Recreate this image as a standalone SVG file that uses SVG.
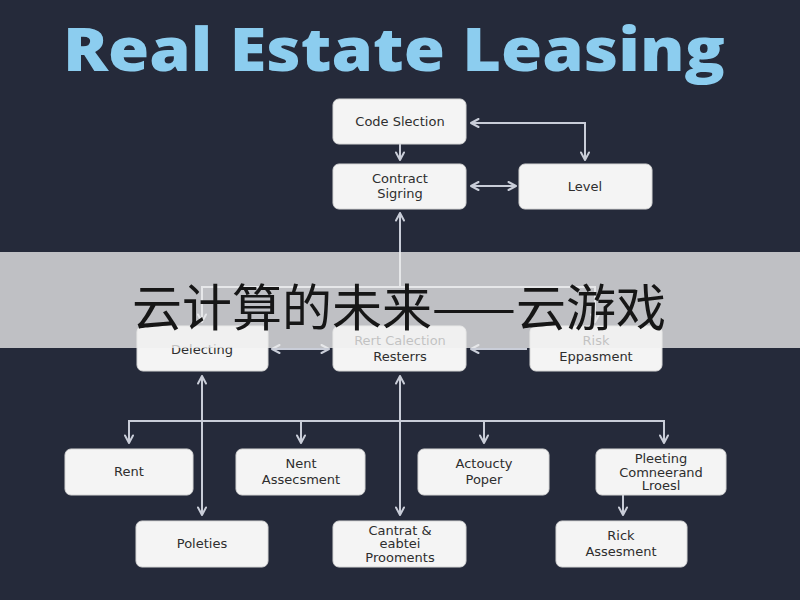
<svg xmlns="http://www.w3.org/2000/svg" width="800" height="600" viewBox="0 0 800 600">
<defs>
<marker id="arr" viewBox="0 0 10 10" refX="9" refY="5" markerWidth="10" markerHeight="10" markerUnits="userSpaceOnUse" orient="auto-start-reverse">
<path d="M1.5,1 L9,5 L1.5,9" fill="none" stroke="#c9cdd8" stroke-width="2" stroke-linecap="round" stroke-linejoin="round"/>
</marker>
</defs>
<style>
.bg{fill:#252a3a}
.node rect{fill:#f4f4f4;stroke:#d6d6d6;stroke-width:1}
.node text{font-family:"DejaVu Sans","Open Sans",sans-serif;font-size:13px;fill:#2e2e2e;text-anchor:middle}
.small{font-size:10.5px}
.conn path{fill:none;stroke:#c9cdd8;stroke-width:2}
.title{font-family:"Open Sans","Liberation Sans",sans-serif;font-weight:800;font-size:60px;fill:#8ccdef}
.band{fill:#eeeeee;fill-opacity:0.77}
.bandtext{font-family:"Noto Sans CJK SC","Noto Sans",sans-serif;font-size:50px;fill:#161616;text-anchor:middle}
</style>
<rect class="bg" x="0" y="0" width="800" height="600"/>
<text class="title" x="63" y="71" textLength="662" lengthAdjust="spacingAndGlyphs">Real Estate Leasing</text>

<g id="connectors" class="conn">
<path d="M400,144 L400,160" marker-end="url(#arr)"/>
<path d="M471,123 L585,123 L585,160" marker-start="url(#arr)" marker-end="url(#arr)"/>
<path d="M471,186 L516,186" marker-start="url(#arr)" marker-end="url(#arr)"/>
<path d="M400,287 L400,213" marker-end="url(#arr)"/>
<path d="M202,322 L202,287 L595,287 L595,322" marker-start="url(#arr)" marker-end="url(#arr)"/>
<path d="M272,349 L329,349" marker-start="url(#arr)" marker-end="url(#arr)"/>
<path d="M527,349 L471,349" marker-end="url(#arr)"/>
<path d="M129,443 L129,421 L664,421 L664,443" marker-start="url(#arr)" marker-end="url(#arr)"/>
<path d="M301,421 L301,443" marker-end="url(#arr)"/>
<path d="M484,421 L484,443" marker-end="url(#arr)"/>
<path d="M202,515 L202,376" marker-start="url(#arr)" marker-end="url(#arr)"/>
<path d="M400,515 L400,376" marker-start="url(#arr)" marker-end="url(#arr)"/>
<path d="M623,495 L623,515" marker-end="url(#arr)"/>
</g>

<g id="code-selection" class="node"><rect x="333" y="99" width="133" height="45" rx="6"/><text x="400" y="126">Code Slection</text></g>
<g id="contract-signing" class="node"><rect x="333" y="164" width="133" height="45" rx="6"/><text x="400" y="183">Contract</text><text x="400" y="198">Sigring</text></g>
<g id="level" class="node"><rect x="519" y="164" width="133" height="45" rx="6"/><text x="585" y="191">Level</text></g>

<g id="delecting" class="node"><rect x="137" y="326" width="131" height="45" rx="6"/><text x="202" y="354">Delecting</text></g>
<g id="rent-calection" class="node"><rect x="333" y="326" width="133" height="45" rx="6"/><text x="400" y="345">Rert Calection</text><text x="400" y="361">Resterrs</text></g>
<g id="risk-eppasment" class="node"><rect x="530" y="326" width="132" height="45" rx="6"/><text x="596" y="345">Risk</text><text x="596" y="361">Eppasment</text></g>

<g id="rent" class="node"><rect x="65" y="449" width="128" height="46" rx="6"/><text x="129" y="476">Rent</text></g>
<g id="nent-assessment" class="node"><rect x="236" y="449" width="129" height="46" rx="6"/><text x="301" y="468">Nent</text><text x="301" y="484">Assecsment</text></g>
<g id="actoucty-poper" class="node"><rect x="418" y="449" width="131" height="46" rx="6"/><text x="484" y="468">Actoucty</text><text x="484" y="484">Poper</text></g>
<g id="pleeting" class="node"><rect x="596" y="449" width="130" height="46" rx="6"/><text x="661" y="463">Pleeting</text><text x="661" y="477">Comneerand</text><text x="661" y="490" class="small">Lroesl</text></g>

<g id="poleties" class="node"><rect x="136" y="521" width="132" height="46" rx="6"/><text x="202" y="548">Poleties</text></g>
<g id="cantrat" class="node"><rect x="333" y="521" width="133" height="46" rx="6"/><text x="400" y="535">Cantrat &amp;</text><text x="400" y="548" class="small">eabtei</text><text x="400" y="562">Prooments</text></g>
<g id="rick-assessment" class="node"><rect x="556" y="521" width="131" height="46" rx="6"/><text x="621" y="540">Rick</text><text x="621" y="556">Assesment</text></g>

<rect class="band" x="0" y="252" width="800" height="96"/>
<text class="bandtext" x="399" y="326">云计算的未来——云游戏</text>
</svg>
